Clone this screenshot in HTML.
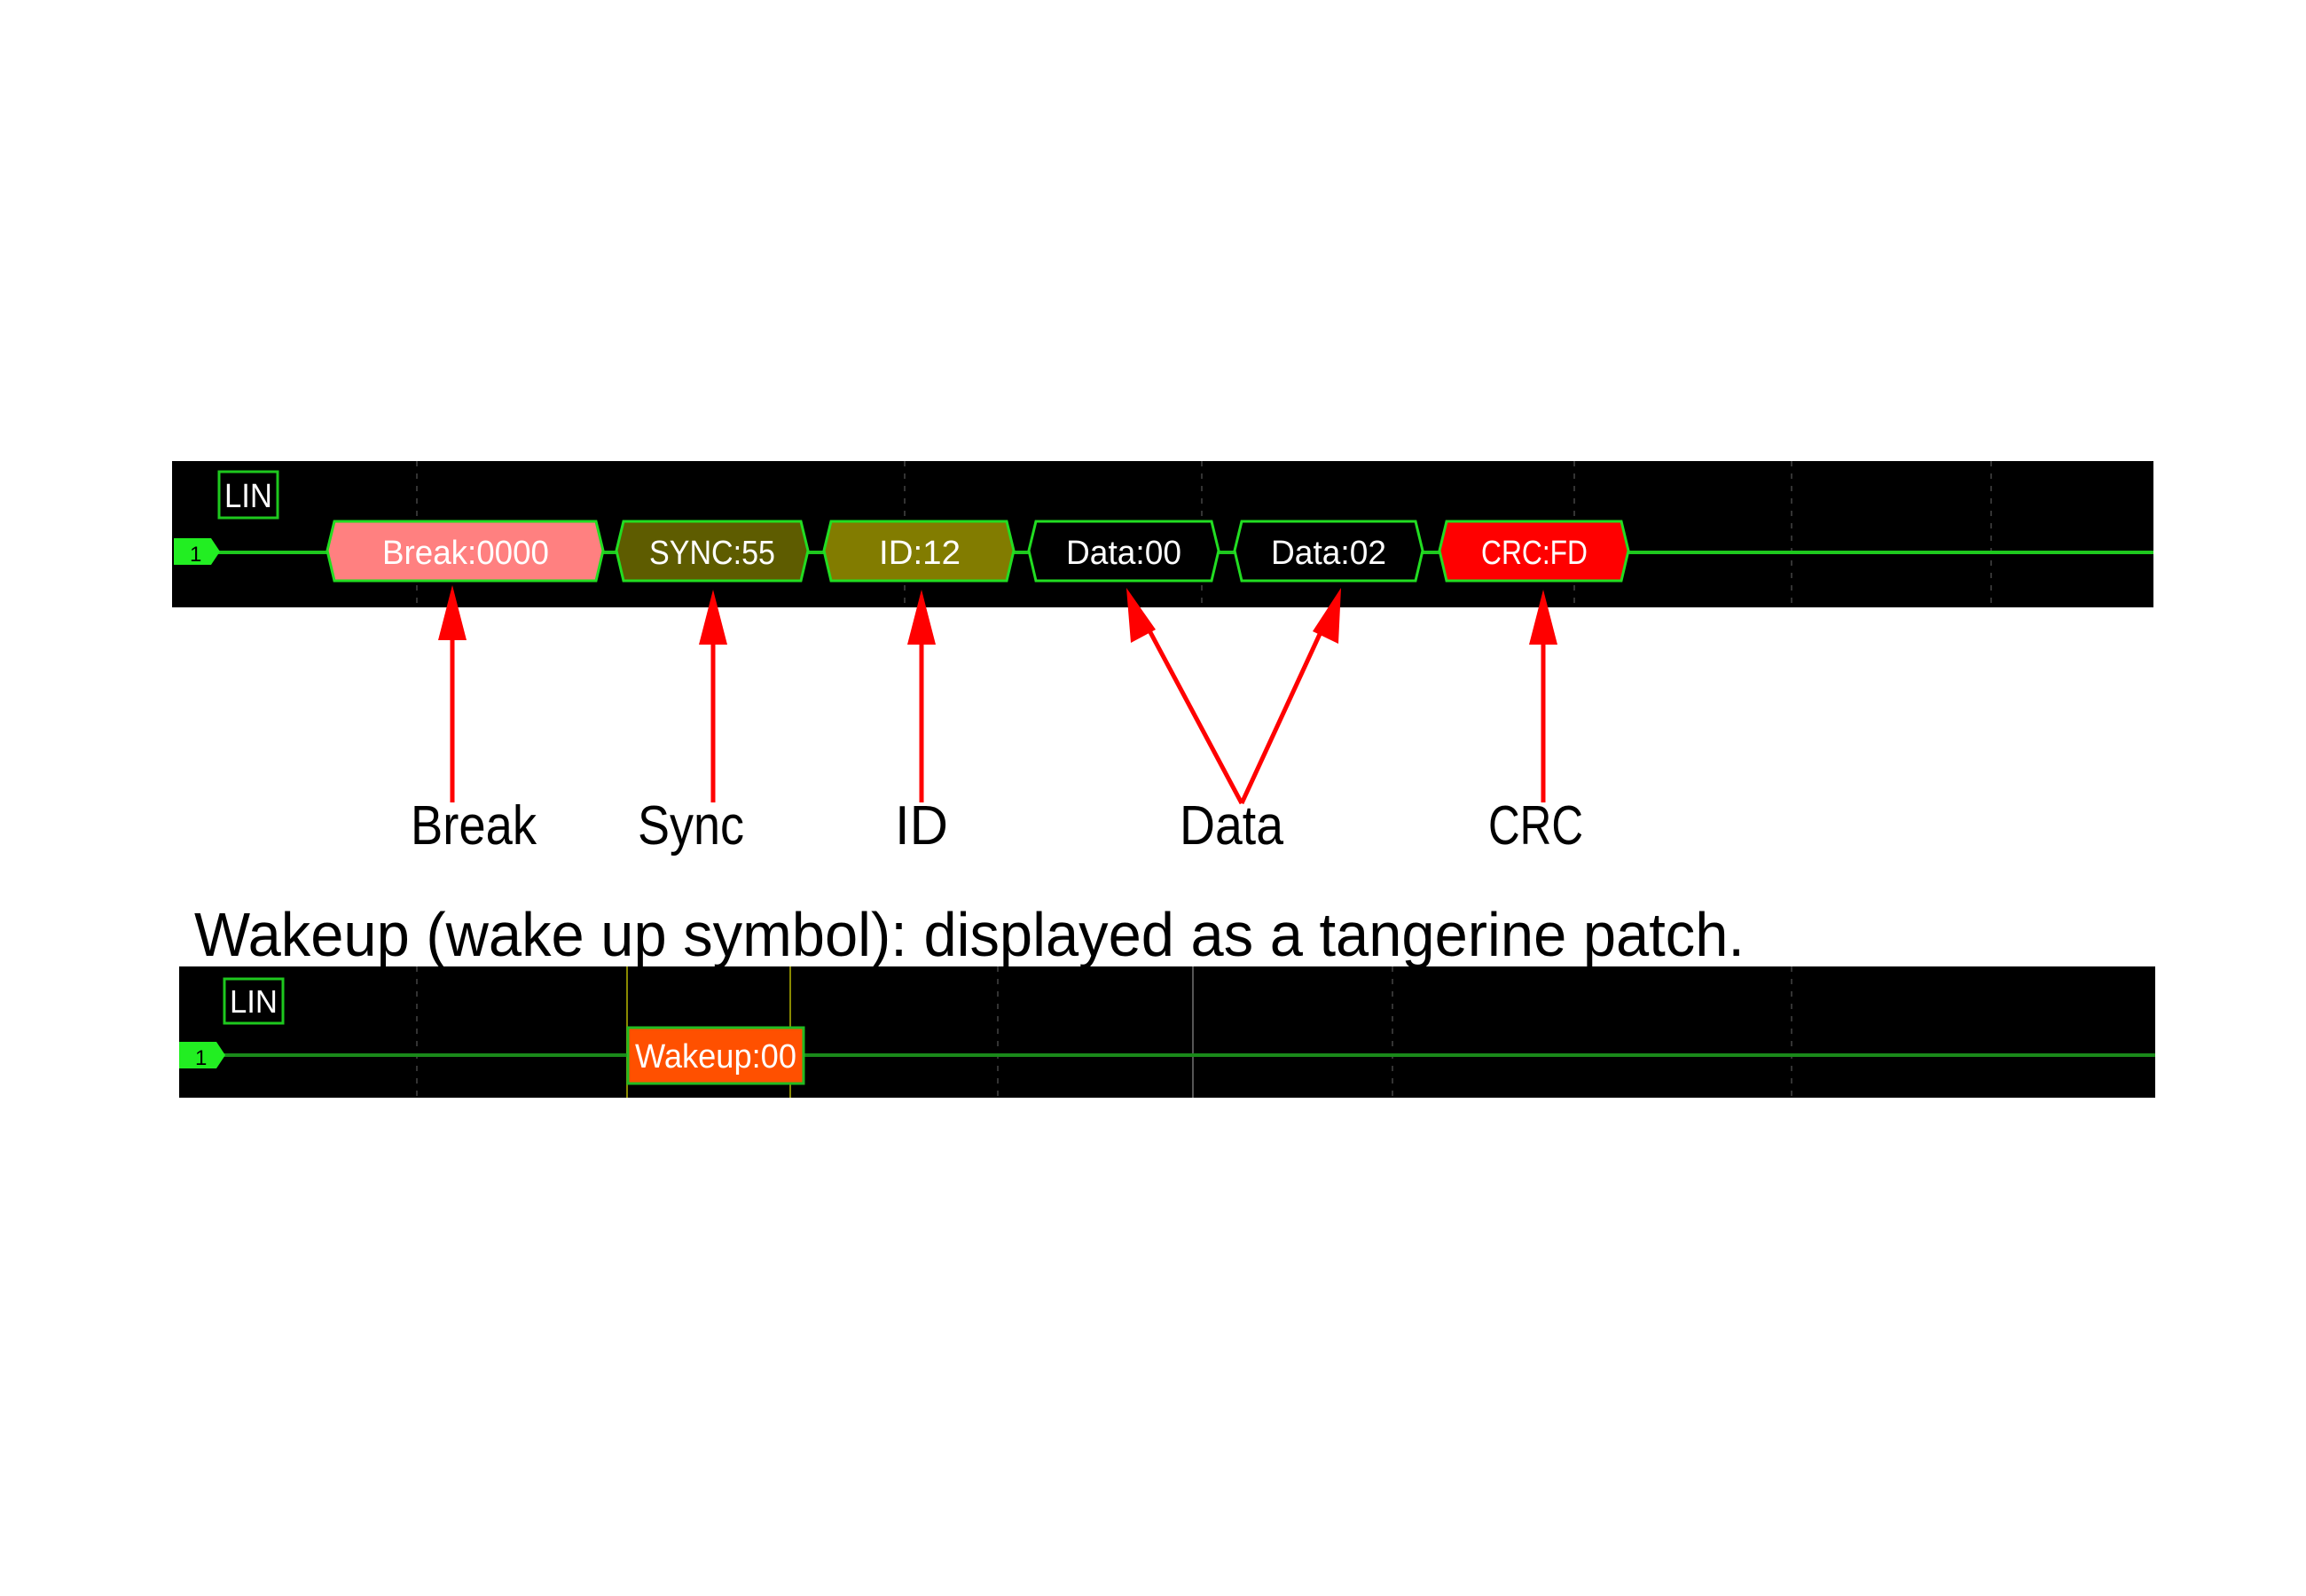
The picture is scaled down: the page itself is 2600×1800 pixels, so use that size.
<!DOCTYPE html>
<html><head><meta charset="utf-8"><style>html,body{margin:0;padding:0;background:#fff}svg{display:block}</style></head>
<body>
<svg width="2600" height="1800" viewBox="0 0 2600 1800" xmlns="http://www.w3.org/2000/svg" font-family="Liberation Sans, DejaVu Sans, sans-serif">
<rect width="2600" height="1800" fill="#fff"/>
<!-- top panel -->
<rect x="194" y="520" width="2234" height="165" fill="#000"/>
<g stroke="#333" stroke-width="2" stroke-dasharray="6 8">
<line x1="470" y1="520" x2="470" y2="685"/><line x1="1020" y1="520" x2="1020" y2="685"/><line x1="1355" y1="520" x2="1355" y2="685"/><line x1="1775" y1="520" x2="1775" y2="685"/><line x1="2020" y1="520" x2="2020" y2="685"/><line x1="2245" y1="520" x2="2245" y2="685"/>
</g>
<line x1="246" y1="623" x2="2428" y2="623" stroke="#1ec81e" stroke-width="4"/>
<polygon points="196,607 238,607 248,622 238,637 196,637" fill="#22ee22"/>
<text x="214" y="633" font-size="24" fill="#000">1</text>
<rect x="247" y="532" width="66" height="52" fill="#000" stroke="#1ec81e" stroke-width="3"/>
<text x="280" y="572" font-size="38" fill="#fff" text-anchor="middle" textLength="54" lengthAdjust="spacingAndGlyphs">LIN</text>
<g stroke="#22dd22" stroke-width="3" font-size="38" text-anchor="middle">
<polygon points="377,588 672,588 680,621 672,655 377,655 369,621" fill="#ff8080"/>
<polygon points="703,588 903,588 911,621 903,655 703,655 695,621" fill="#5e5c00"/>
<polygon points="937,588 1135,588 1143,621 1135,655 937,655 929,621" fill="#827c00"/>
<polygon points="1168,588 1366,588 1374,621 1366,655 1168,655 1160,621" fill="#000"/>
<polygon points="1400,588 1596,588 1604,621 1596,655 1400,655 1392,621" fill="#000"/>
<polygon points="1631,588 1828,588 1836,621 1828,655 1631,655 1623,621" fill="#ff0000"/>
</g>
<g font-size="38" fill="#fff" text-anchor="middle">
<text x="525" y="636" textLength="188" lengthAdjust="spacingAndGlyphs">Break:0000</text>
<text x="803" y="636" textLength="142" lengthAdjust="spacingAndGlyphs">SYNC:55</text>
<text x="1037" y="636" textLength="92" lengthAdjust="spacingAndGlyphs">ID:12</text>
<text x="1267" y="636" textLength="130" lengthAdjust="spacingAndGlyphs">Data:00</text>
<text x="1498" y="636" textLength="130" lengthAdjust="spacingAndGlyphs">Data:02</text>
<text x="1730" y="636" textLength="120" lengthAdjust="spacingAndGlyphs">CRC:FD</text>
</g>
<!-- arrows -->
<g stroke="#ff0000" stroke-width="5" fill="none">
<line x1="510" y1="905" x2="510" y2="700"/>
<line x1="804" y1="905" x2="804" y2="705"/>
<line x1="1039" y1="905" x2="1039" y2="705"/>
<line x1="1400" y1="906" x2="1290" y2="700"/>
<line x1="1400" y1="906" x2="1495" y2="700"/>
<line x1="1740" y1="905" x2="1740" y2="705"/>
</g>
<g fill="#ff0000">
<polygon points="510,660 494,722 526,722"/>
<polygon points="804,665 788,727 820,727"/>
<polygon points="1039,665 1023,727 1055,727"/>
<polygon points="1270,663 1275,725 1303,710"/>
<polygon points="1512,663 1480,712 1509,726"/>
<polygon points="1740,665 1724,727 1756,727"/>
</g>
<g font-size="62" fill="#000">
<text x="463" y="952" textLength="142" lengthAdjust="spacingAndGlyphs">Break</text>
<text x="719" y="952" textLength="120" lengthAdjust="spacingAndGlyphs">Sync</text>
<text x="1009" y="952" textLength="60" lengthAdjust="spacingAndGlyphs">ID</text>
<text x="1330" y="952" textLength="117" lengthAdjust="spacingAndGlyphs">Data</text>
<text x="1678" y="952" textLength="107" lengthAdjust="spacingAndGlyphs">CRC</text>
</g>
<text x="219" y="1078" font-size="70" fill="#000" textLength="1748" lengthAdjust="spacingAndGlyphs">Wakeup (wake up symbol): displayed as a tangerine patch.</text>
<!-- bottom panel -->
<rect x="202" y="1090" width="2228" height="148" fill="#000"/>
<g stroke="#333" stroke-width="2" stroke-dasharray="6 8">
<line x1="470" y1="1090" x2="470" y2="1238"/><line x1="1125" y1="1090" x2="1125" y2="1238"/><line x1="1570" y1="1090" x2="1570" y2="1238"/><line x1="2020" y1="1090" x2="2020" y2="1238"/>
</g>
<line x1="1345" y1="1090" x2="1345" y2="1238" stroke="#555" stroke-width="2"/>
<line x1="707" y1="1090" x2="707" y2="1238" stroke="#8a8a00" stroke-width="2"/>
<line x1="891" y1="1090" x2="891" y2="1238" stroke="#8a8a00" stroke-width="2"/>
<line x1="252" y1="1190" x2="2430" y2="1190" stroke="#1a8a1a" stroke-width="4"/>
<polygon points="202,1175 244,1175 254,1190 244,1205 202,1205" fill="#22ee22"/>
<text x="220" y="1201" font-size="24" fill="#000">1</text>
<rect x="253" y="1104" width="66" height="50" fill="#000" stroke="#1ec81e" stroke-width="3"/>
<text x="286" y="1142" font-size="36" fill="#fff" text-anchor="middle" textLength="54" lengthAdjust="spacingAndGlyphs">LIN</text>
<rect x="708" y="1159" width="198" height="63" fill="#ff5000" stroke="#22bb22" stroke-width="3"/>
<text x="807" y="1204" font-size="38" fill="#fff" text-anchor="middle" textLength="182" lengthAdjust="spacingAndGlyphs">Wakeup:00</text>
</svg>
</body></html>
